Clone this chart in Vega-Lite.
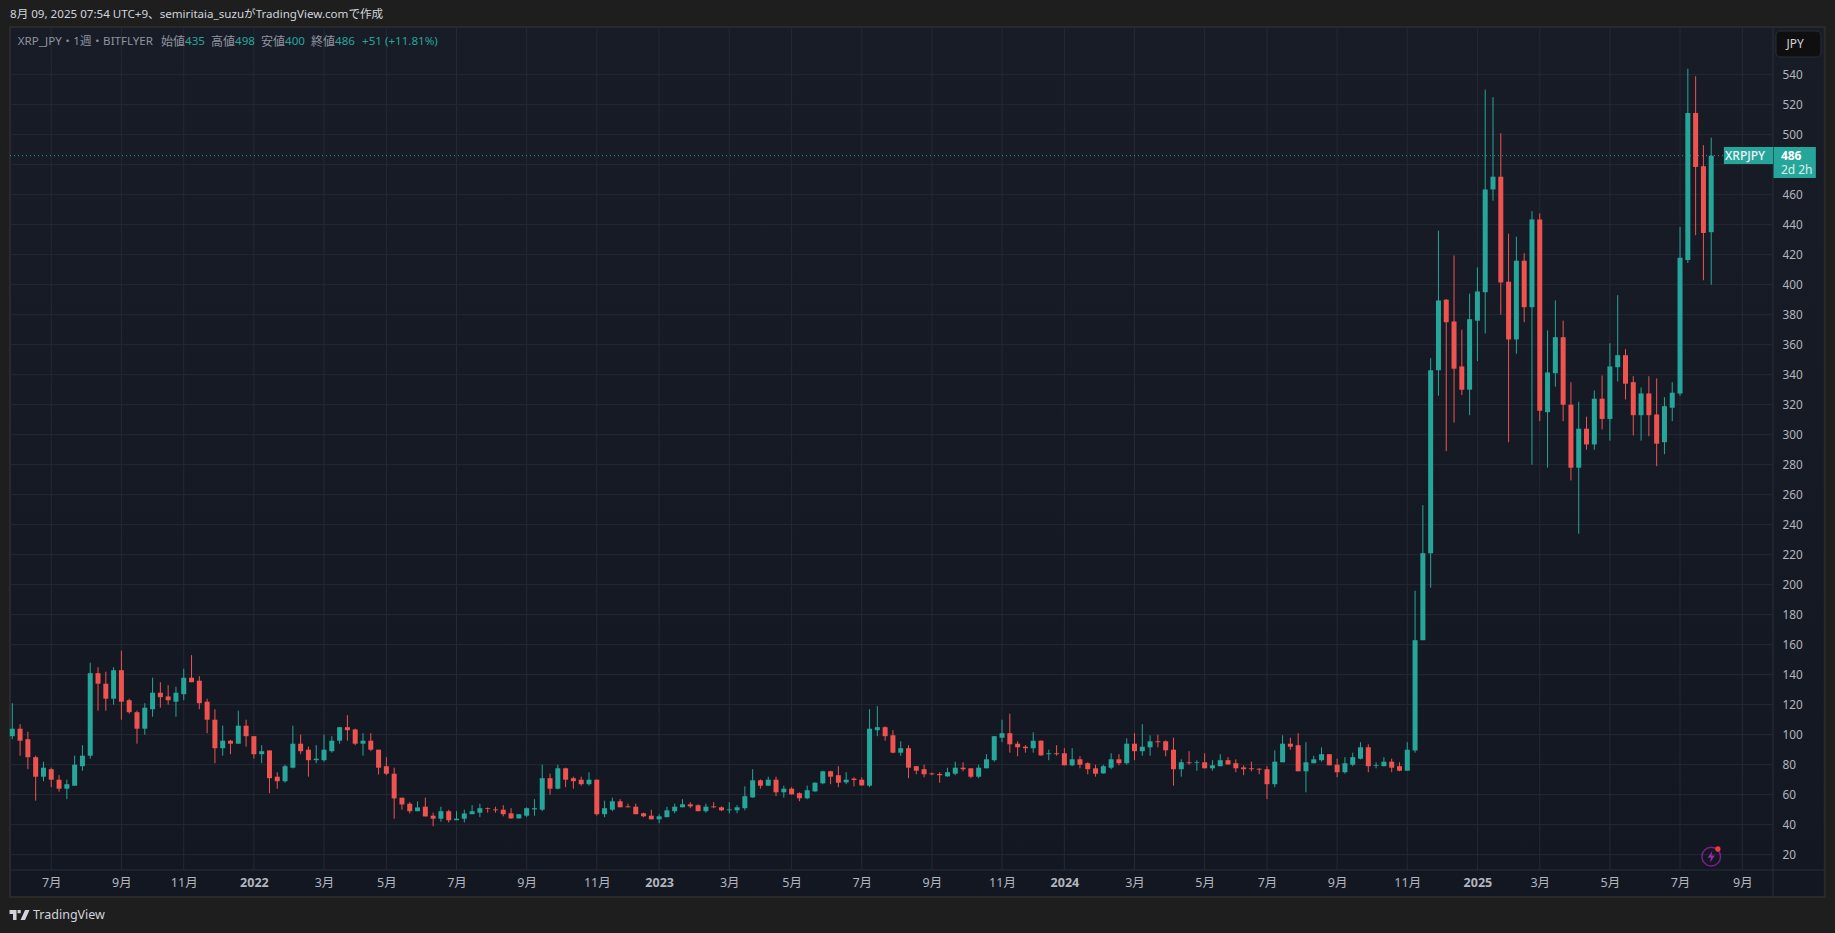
{"$schema":"https://vega.github.io/schema/vega-lite/v6.json","width":1763,"height":843,"autosize":"none","padding":{"left":10,"top":27,"right":62,"bottom":63},"background":"#1e1e1e","config":{"font":"Noto Sans, Noto Sans CJK JP","view":{"stroke":null}},
"datasets":{"one":[{}],
"xticks":[{"date":"2021-07-05"},{"date":"2021-09-06"},{"date":"2021-11-01"},{"date":"2022-01-03"},{"date":"2022-03-07"},{"date":"2022-05-02"},{"date":"2022-07-04"},{"date":"2022-09-05"},{"date":"2022-11-07"},{"date":"2023-01-02"},{"date":"2023-03-06"},{"date":"2023-05-01"},{"date":"2023-07-03"},{"date":"2023-09-04"},{"date":"2023-11-06"},{"date":"2024-01-01"},{"date":"2024-03-04"},{"date":"2024-05-06"},{"date":"2024-07-01"},{"date":"2024-09-02"},{"date":"2024-11-04"},{"date":"2025-01-06"},{"date":"2025-03-03"},{"date":"2025-05-05"},{"date":"2025-07-07"},{"date":"2025-09-01"}],
"yticks":[{"price":20},{"price":40},{"price":60},{"price":80},{"price":100},{"price":120},{"price":140},{"price":160},{"price":180},{"price":200},{"price":220},{"price":240},{"price":260},{"price":280},{"price":300},{"price":320},{"price":340},{"price":360},{"price":380},{"price":400},{"price":420},{"price":440},{"price":460},{"price":480},{"price":500},{"price":520},{"price":540}],
"candles":[
{"date":"2021-05-31","open":99,"high":121,"low":97,"close":104},{"date":"2021-06-07","open":104,"high":107,"low":86,"close":96},{"date":"2021-06-14","open":97,"high":102,"low":77,"close":85},{"date":"2021-06-21","open":85,"high":86,"low":56,"close":72},{"date":"2021-06-28","open":72,"high":82,"low":69,"close":78},
{"date":"2021-07-05","open":77,"high":78,"low":65,"close":70},{"date":"2021-07-12","open":70,"high":73,"low":62,"close":64},{"date":"2021-07-19","open":64,"high":70,"low":57,"close":67},{"date":"2021-07-26","open":66,"high":86,"low":66,"close":80},
{"date":"2021-08-02","open":79,"high":93,"low":76,"close":86},{"date":"2021-08-09","open":86,"high":148,"low":84,"close":141},{"date":"2021-08-16","open":141,"high":145,"low":116,"close":134},{"date":"2021-08-23","open":134,"high":142,"low":116,"close":124},{"date":"2021-08-30","open":124,"high":145,"low":120,"close":143},
{"date":"2021-09-06","open":143,"high":156,"low":110,"close":122},{"date":"2021-09-13","open":123,"high":124,"low":114,"close":115},{"date":"2021-09-20","open":115,"high":116,"low":94,"close":104},{"date":"2021-09-27","open":104,"high":121,"low":100,"close":118},
{"date":"2021-10-04","open":117,"high":138,"low":112,"close":128},{"date":"2021-10-11","open":128,"high":135,"low":118,"close":125},{"date":"2021-10-18","open":125.5,"high":133,"low":120,"close":123},{"date":"2021-10-25","open":122,"high":132,"low":112,"close":128},
{"date":"2021-11-01","open":127,"high":144,"low":123,"close":138},{"date":"2021-11-08","open":138,"high":153,"low":135,"close":135},{"date":"2021-11-15","open":136,"high":139,"low":117,"close":121},{"date":"2021-11-22","open":122,"high":124,"low":101,"close":110},{"date":"2021-11-29","open":110,"high":117,"low":81,"close":91},
{"date":"2021-12-06","open":91,"high":106,"low":86,"close":96},{"date":"2021-12-13","open":96,"high":96.5,"low":87,"close":94},{"date":"2021-12-20","open":94,"high":116,"low":94,"close":106},{"date":"2021-12-27","open":106,"high":110,"low":92,"close":99},
{"date":"2022-01-03","open":99,"high":99,"low":84,"close":87},{"date":"2022-01-10","open":87,"high":93,"low":81,"close":89},{"date":"2022-01-17","open":89.5,"high":89.5,"low":61,"close":71},{"date":"2022-01-24","open":72,"high":75,"low":64,"close":69},{"date":"2022-01-31","open":69,"high":80,"low":68,"close":79},
{"date":"2022-02-07","open":78,"high":106,"low":77.5,"close":94},{"date":"2022-02-14","open":94,"high":100,"low":87,"close":89},{"date":"2022-02-21","open":90,"high":92,"low":72,"close":83},{"date":"2022-02-28","open":83,"high":93,"low":81,"close":84},
{"date":"2022-03-07","open":83,"high":100,"low":82,"close":90},{"date":"2022-03-14","open":89,"high":99,"low":88,"close":96},{"date":"2022-03-21","open":96,"high":105,"low":94,"close":105},{"date":"2022-03-28","open":105,"high":113,"low":96,"close":103},
{"date":"2022-04-04","open":103.5,"high":104,"low":93,"close":94},{"date":"2022-04-11","open":94,"high":101,"low":86,"close":96},{"date":"2022-04-18","open":96,"high":101,"low":89,"close":90},{"date":"2022-04-25","open":90,"high":90,"low":73.5,"close":78},
{"date":"2022-05-02","open":79,"high":85,"low":73,"close":74},{"date":"2022-05-09","open":74,"high":78,"low":44,"close":57.5},{"date":"2022-05-16","open":58,"high":58,"low":50,"close":53.5},{"date":"2022-05-23","open":54,"high":55,"low":47.5,"close":49},{"date":"2022-05-30","open":49,"high":55.5,"low":49,"close":51.5},
{"date":"2022-06-06","open":52,"high":58,"low":45.5,"close":45.5},{"date":"2022-06-13","open":46,"high":48,"low":39,"close":44},{"date":"2022-06-20","open":44,"high":52,"low":42,"close":49},{"date":"2022-06-27","open":49,"high":50,"low":41.5,"close":43},
{"date":"2022-07-04","open":43,"high":49,"low":43,"close":44},{"date":"2022-07-11","open":44,"high":50,"low":41.5,"close":47.5},{"date":"2022-07-18","open":47,"high":53,"low":47,"close":49},{"date":"2022-07-25","open":48,"high":54,"low":45,"close":51},
{"date":"2022-08-01","open":51,"high":51.5,"low":48,"close":50.5},{"date":"2022-08-08","open":50.2,"high":52,"low":48,"close":49.6},{"date":"2022-08-15","open":50,"high":53,"low":45.6,"close":47},{"date":"2022-08-22","open":47.6,"high":51,"low":44,"close":44.2},{"date":"2022-08-29","open":44.2,"high":47,"low":44,"close":47},
{"date":"2022-09-05","open":46,"high":51.6,"low":45,"close":51},{"date":"2022-09-12","open":50.2,"high":57,"low":46,"close":51},{"date":"2022-09-19","open":50,"high":80,"low":49,"close":71},{"date":"2022-09-26","open":71,"high":74,"low":60,"close":64},
{"date":"2022-10-03","open":64,"high":80,"low":63.5,"close":77.6},{"date":"2022-10-10","open":77.6,"high":78,"low":65,"close":70},{"date":"2022-10-17","open":71,"high":72,"low":64,"close":69},{"date":"2022-10-24","open":70,"high":72,"low":66,"close":67},{"date":"2022-10-31","open":67,"high":75,"low":66,"close":70},
{"date":"2022-11-07","open":70,"high":70.2,"low":46,"close":47},{"date":"2022-11-14","open":47,"high":56,"low":45,"close":51},{"date":"2022-11-21","open":50,"high":58,"low":49,"close":55.6},{"date":"2022-11-28","open":55.6,"high":57,"low":51.6,"close":51.6},
{"date":"2022-12-05","open":52.2,"high":54,"low":51.5,"close":51.6},{"date":"2022-12-12","open":52,"high":54,"low":47,"close":47},{"date":"2022-12-19","open":47.6,"high":48,"low":45,"close":45.6},{"date":"2022-12-26","open":46,"high":50,"low":43.6,"close":43.6},
{"date":"2023-01-02","open":43.6,"high":47,"low":41,"close":45.6},{"date":"2023-01-09","open":45,"high":52,"low":45,"close":49.6},{"date":"2023-01-16","open":49,"high":54,"low":47.6,"close":52},{"date":"2023-01-23","open":51.6,"high":57,"low":51.6,"close":53.6},{"date":"2023-01-30","open":53.6,"high":55,"low":51,"close":52.2},
{"date":"2023-02-06","open":53,"high":53.6,"low":49,"close":49},{"date":"2023-02-13","open":49,"high":54,"low":48,"close":52},{"date":"2023-02-20","open":52.2,"high":55,"low":51,"close":51.6},{"date":"2023-02-27","open":51.6,"high":52.2,"low":49,"close":49.6},
{"date":"2023-03-06","open":49.6,"high":55,"low":47.6,"close":50.2},{"date":"2023-03-13","open":49.6,"high":53,"low":47.6,"close":51.6},{"date":"2023-03-20","open":51,"high":65.6,"low":49.6,"close":59},{"date":"2023-03-27","open":58.2,"high":77,"low":58,"close":69.6},
{"date":"2023-04-03","open":69.6,"high":70.2,"low":64,"close":66},{"date":"2023-04-10","open":66,"high":72,"low":66,"close":70},{"date":"2023-04-17","open":70,"high":72,"low":59,"close":61.6},{"date":"2023-04-24","open":61.6,"high":66,"low":58,"close":64},
{"date":"2023-05-01","open":64,"high":65,"low":60,"close":60.2},{"date":"2023-05-08","open":61,"high":61.6,"low":55.6,"close":57.6},{"date":"2023-05-15","open":57.6,"high":66,"low":57,"close":63},{"date":"2023-05-22","open":62.2,"high":68.2,"low":62,"close":68},{"date":"2023-05-29","open":67.6,"high":76,"low":67,"close":75.6},
{"date":"2023-06-05","open":75.6,"high":76,"low":67,"close":72},{"date":"2023-06-12","open":73,"high":79,"low":65,"close":68},{"date":"2023-06-19","open":68.2,"high":75,"low":67,"close":70},{"date":"2023-06-26","open":70.7,"high":71.6,"low":65.6,"close":69.8},
{"date":"2023-07-03","open":70,"high":71.6,"low":66,"close":66.2},{"date":"2023-07-10","open":66,"high":117,"low":65,"close":104},{"date":"2023-07-17","open":103,"high":119,"low":99,"close":105},{"date":"2023-07-24","open":105,"high":105.6,"low":96,"close":99},{"date":"2023-07-31","open":99.6,"high":103,"low":87.6,"close":88},
{"date":"2023-08-07","open":88,"high":95.6,"low":86,"close":91},{"date":"2023-08-14","open":91,"high":93,"low":71,"close":78},{"date":"2023-08-21","open":79,"high":79,"low":73.6,"close":76},{"date":"2023-08-28","open":77,"high":80,"low":71.6,"close":73.6},
{"date":"2023-09-04","open":74.2,"high":74.7,"low":73,"close":73.6},{"date":"2023-09-11","open":73.8,"high":75,"low":68,"close":73},{"date":"2023-09-18","open":72.2,"high":78,"low":72,"close":75},{"date":"2023-09-25","open":74,"high":82,"low":73,"close":78},
{"date":"2023-10-02","open":78,"high":81.6,"low":75.6,"close":77},{"date":"2023-10-09","open":77.6,"high":77.6,"low":71,"close":72},{"date":"2023-10-16","open":72,"high":80,"low":71,"close":78},{"date":"2023-10-23","open":77.6,"high":87,"low":77.6,"close":83.6},{"date":"2023-10-30","open":83,"high":99,"low":82,"close":99},
{"date":"2023-11-06","open":98,"high":110,"low":95,"close":101},{"date":"2023-11-13","open":101,"high":114,"low":88,"close":93.6},{"date":"2023-11-20","open":94,"high":95.6,"low":85.6,"close":91.6},{"date":"2023-11-27","open":92,"high":93,"low":88,"close":91},
{"date":"2023-12-04","open":91,"high":101.6,"low":88,"close":96},{"date":"2023-12-11","open":96,"high":96.2,"low":86,"close":86.2},{"date":"2023-12-18","open":87,"high":90,"low":83,"close":87.6},{"date":"2023-12-25","open":87.6,"high":93,"low":86,"close":87},
{"date":"2024-01-01","open":87.6,"high":91,"low":79.6,"close":79.6},{"date":"2024-01-08","open":79.6,"high":91,"low":79,"close":83.6},{"date":"2024-01-15","open":83.6,"high":85.6,"low":77.6,"close":80},{"date":"2024-01-22","open":81,"high":81.6,"low":73.6,"close":77},{"date":"2024-01-29","open":77.6,"high":80,"low":72,"close":74},
{"date":"2024-02-05","open":74.2,"high":80,"low":74,"close":79},{"date":"2024-02-12","open":78,"high":87.6,"low":77,"close":83.6},{"date":"2024-02-19","open":83.6,"high":87,"low":79.6,"close":81},{"date":"2024-02-26","open":81,"high":97.6,"low":80,"close":94},
{"date":"2024-03-04","open":94,"high":101,"low":83,"close":89},{"date":"2024-03-11","open":89,"high":107,"low":86,"close":92},{"date":"2024-03-18","open":91.6,"high":99.6,"low":86,"close":95.6},{"date":"2024-03-25","open":95.6,"high":100,"low":91.6,"close":95},
{"date":"2024-04-01","open":95.6,"high":96.2,"low":85.6,"close":89.6},{"date":"2024-04-08","open":90,"high":98,"low":66,"close":77},{"date":"2024-04-15","open":77,"high":83.6,"low":72,"close":81.6},{"date":"2024-04-22","open":81.6,"high":89,"low":80,"close":81},{"date":"2024-04-29","open":81.1,"high":83,"low":76,"close":81.6},
{"date":"2024-05-06","open":81.6,"high":87.6,"low":77.6,"close":77.6},{"date":"2024-05-13","open":77.6,"high":83,"low":76,"close":79.6},{"date":"2024-05-20","open":79,"high":87,"low":79,"close":83},{"date":"2024-05-27","open":83,"high":85,"low":80,"close":80.2},
{"date":"2024-06-03","open":81,"high":83.6,"low":75,"close":77.6},{"date":"2024-06-10","open":78.2,"high":79.6,"low":73,"close":77},{"date":"2024-06-17","open":77.6,"high":82,"low":75.6,"close":77},{"date":"2024-06-24","open":77.3,"high":77.6,"low":73.6,"close":76.7},
{"date":"2024-07-01","open":77,"high":79,"low":57,"close":67},{"date":"2024-07-08","open":67,"high":89.6,"low":65,"close":82},{"date":"2024-07-15","open":81.6,"high":99.6,"low":81.6,"close":94},{"date":"2024-07-22","open":94,"high":98,"low":90,"close":92},{"date":"2024-07-29","open":93,"high":101,"low":75.6,"close":75.6},
{"date":"2024-08-05","open":75.6,"high":95,"low":61.6,"close":81.6},{"date":"2024-08-12","open":81,"high":86,"low":81,"close":83.6},{"date":"2024-08-19","open":83,"high":91.6,"low":82,"close":87},{"date":"2024-08-26","open":87,"high":87,"low":79.6,"close":79.6},
{"date":"2024-09-02","open":80,"high":84,"low":71.6,"close":75},{"date":"2024-09-09","open":75,"high":85,"low":74,"close":81},{"date":"2024-09-16","open":80,"high":88,"low":79,"close":85},{"date":"2024-09-23","open":84,"high":95,"low":83.6,"close":91.6},{"date":"2024-09-30","open":91.6,"high":93.6,"low":75,"close":79},
{"date":"2024-10-07","open":79.1,"high":81.6,"low":77.6,"close":79.6},{"date":"2024-10-14","open":79,"high":85,"low":79,"close":82},{"date":"2024-10-21","open":82,"high":84,"low":75,"close":78},{"date":"2024-10-28","open":79,"high":81.6,"low":75.6,"close":76},
{"date":"2024-11-04","open":76,"high":95,"low":76,"close":90},{"date":"2024-11-11","open":89.5,"high":196,"low":88,"close":163},{"date":"2024-11-18","open":163,"high":253,"low":163,"close":221},{"date":"2024-11-25","open":221,"high":351,"low":198,"close":343},
{"date":"2024-12-02","open":343,"high":436,"low":326,"close":389.5},{"date":"2024-12-09","open":390,"high":390.5,"low":289,"close":375},{"date":"2024-12-16","open":375.5,"high":419.5,"low":308,"close":344},{"date":"2024-12-23","open":345.5,"high":370,"low":326.5,"close":330},{"date":"2024-12-30","open":330,"high":394,"low":313,"close":377},
{"date":"2025-01-06","open":376,"high":411.5,"low":349,"close":395.5},{"date":"2025-01-13","open":395,"high":530,"low":367.5,"close":463.5},{"date":"2025-01-20","open":463.5,"high":525,"low":456,"close":472},{"date":"2025-01-27","open":472,"high":501,"low":380,"close":401.5},
{"date":"2025-02-03","open":402,"high":434,"low":295,"close":363.5},{"date":"2025-02-10","open":363.5,"high":432,"low":354,"close":416},{"date":"2025-02-17","open":416,"high":421,"low":375,"close":385},{"date":"2025-02-24","open":385,"high":449,"low":280,"close":443.5},
{"date":"2025-03-03","open":443.5,"high":447.5,"low":309,"close":316},{"date":"2025-03-10","open":315,"high":369.5,"low":278,"close":341.5},{"date":"2025-03-17","open":341,"high":389.5,"low":332,"close":365},{"date":"2025-03-24","open":365,"high":376,"low":309,"close":320},{"date":"2025-03-31","open":320,"high":335,"low":269.5,"close":278},
{"date":"2025-04-07","open":278,"high":322,"low":234,"close":304},{"date":"2025-04-14","open":304,"high":312,"low":290,"close":293.5},{"date":"2025-04-21","open":293.5,"high":329.5,"low":290,"close":324},{"date":"2025-04-28","open":324,"high":339.5,"low":303.5,"close":310.5},
{"date":"2025-05-05","open":310.5,"high":361,"low":296,"close":345.5},{"date":"2025-05-12","open":345,"high":393,"low":335.5,"close":353},{"date":"2025-05-19","open":353,"high":357,"low":323.5,"close":334},{"date":"2025-05-26","open":335,"high":339,"low":299.5,"close":313},
{"date":"2025-06-02","open":313,"high":331.5,"low":296,"close":327.5},{"date":"2025-06-09","open":327.5,"high":339,"low":299,"close":313},{"date":"2025-06-16","open":313.5,"high":337.5,"low":279,"close":294},{"date":"2025-06-23","open":295,"high":325,"low":287,"close":319},{"date":"2025-06-30","open":318,"high":335,"low":309,"close":328},
{"date":"2025-07-07","open":327.5,"high":438.5,"low":326,"close":418},{"date":"2025-07-14","open":416.5,"high":544,"low":414.5,"close":514.5},{"date":"2025-07-21","open":514.5,"high":539,"low":433,"close":478.5},{"date":"2025-07-28","open":479,"high":493,"low":403,"close":434.5},
{"date":"2025-08-04","open":435,"high":498,"low":400,"close":486}]},
"layer":[
{"data":{"name":"one"},"mark":{"type":"rect","stroke":"#2a2a2a","strokeWidth":2,"fill":{"x1":0,"y1":0,"x2":0,"y2":1,"gradient":"linear","stops":[{"offset":0,"color":"#181c27"},{"offset":1,"color":"#131722"}]}},"encoding":{"x":{"datum":{"year":2021,"month":5,"date":28,"hours":22,"minutes":30,"utc":true},"type":"temporal"},"x2":{"datum":{"year":2025,"month":11,"date":14,"utc":true}},"y":{"datum":571.8,"type":"quantitative"},"y2":{"datum":-8.2}}},
{"data":{"name":"xticks"},"mark":{"type":"rule","color":"#252934","strokeWidth":1},"encoding":{"x":{"field":"date","type":"temporal"}}},
{"data":{"name":"yticks"},"mark":{"type":"rule","color":"#252934","strokeWidth":1},"encoding":{"y":{"field":"price","type":"quantitative"}}},
{"data":{"name":"one"},"mark":{"type":"rule","color":"#2a2e39","strokeWidth":1},"encoding":{"x":{"datum":{"year":2021,"month":5,"date":28,"hours":22,"minutes":30,"utc":true},"type":"temporal"},"x2":{"datum":{"year":2025,"month":11,"date":14,"utc":true}},"y":{"datum":9.8,"type":"quantitative"}}},
{"data":{"name":"one"},"mark":{"type":"rule","color":"#2a2e39","strokeWidth":1},"encoding":{"x":{"datum":{"year":2025,"month":9,"date":28,"hours":12,"utc":true},"type":"temporal"},"y":{"datum":571.8,"type":"quantitative"},"y2":{"datum":-8.2}}},
{"data":{"name":"one"},"mark":{"type":"rule","color":"#26a69a","strokeWidth":1,"strokeDash":[1,3]},"encoding":{"x":{"datum":{"year":2021,"month":5,"date":28,"hours":22,"minutes":30,"utc":true},"type":"temporal"},"x2":{"datum":{"year":2025,"month":8,"date":15,"hours":9,"utc":true}},"y":{"datum":486,"type":"quantitative"}}},
{"data":{"name":"candles"},"mark":{"type":"rule","strokeWidth":1},"encoding":{"x":{"field":"date","type":"temporal","title":null,"scale":{"type":"utc","padding":0,"domain":[{"year":2021,"month":5,"date":28,"hours":22,"minutes":30,"utc":true},{"year":2025,"month":9,"date":28,"hours":12,"utc":true}]},"axis":{"zindex":1,"grid":false,"domain":false,"ticks":false,"title":null,"tickCount":60,"labelColor":"#b2b5be","labelFontSize":12.5,"labelPadding":6,"labelOverlap":false,"labelFlush":false,"labelBound":false,"labelAngle":0,"labelExpr":"utcmonth(datum.value)==0 ? ''+utcyear(datum.value) : (utcmonth(datum.value)+1)+'月'","labelFontWeight":{"condition":{"test":"utcmonth(datum.value)==0","value":"bold"},"value":"normal"},"values":[{"year":2021,"month":7,"date":5,"utc":true},{"year":2021,"month":9,"date":6,"utc":true},{"year":2021,"month":11,"date":1,"utc":true},{"year":2022,"month":1,"date":3,"utc":true},{"year":2022,"month":3,"date":7,"utc":true},{"year":2022,"month":5,"date":2,"utc":true},{"year":2022,"month":7,"date":4,"utc":true},{"year":2022,"month":9,"date":5,"utc":true},{"year":2022,"month":11,"date":7,"utc":true},{"year":2023,"month":1,"date":2,"utc":true},{"year":2023,"month":3,"date":6,"utc":true},{"year":2023,"month":5,"date":1,"utc":true},{"year":2023,"month":7,"date":3,"utc":true},{"year":2023,"month":9,"date":4,"utc":true},{"year":2023,"month":11,"date":6,"utc":true},{"year":2024,"month":1,"date":1,"utc":true},{"year":2024,"month":3,"date":4,"utc":true},{"year":2024,"month":5,"date":6,"utc":true},{"year":2024,"month":7,"date":1,"utc":true},{"year":2024,"month":9,"date":2,"utc":true},{"year":2024,"month":11,"date":4,"utc":true},{"year":2025,"month":1,"date":6,"utc":true},{"year":2025,"month":3,"date":3,"utc":true},{"year":2025,"month":5,"date":5,"utc":true},{"year":2025,"month":7,"date":7,"utc":true},{"year":2025,"month":9,"date":1,"utc":true}]}},"y":{"field":"low","type":"quantitative","title":null,"scale":{"domain":[9.8,571.8],"nice":false,"zero":false},"axis":{"orient":"right","zindex":1,"grid":false,"domain":false,"ticks":false,"title":null,"tickCount":60,"labelColor":"#b2b5be","labelFontSize":11.8,"labelPadding":9,"labelOverlap":false,"labelBound":false,"labelFlush":false,"values":[20,40,60,80,100,120,140,160,180,200,220,240,260,280,300,320,340,360,380,400,420,440,460,500,520,540]}},"y2":{"field":"high"},"color":{"condition":{"test":"datum.close>=datum.open","value":"#26a69a"},"value":"#ef5350"}}},
{"data":{"name":"candles"},"mark":{"type":"bar","size":5},"encoding":{"x":{"field":"date","type":"temporal"},"y":{"field":"open","type":"quantitative"},"y2":{"field":"close"},"color":{"condition":{"test":"datum.close>=datum.open","value":"#26a69a"},"value":"#ef5350"}}},
{"data":{"name":"one"},"mark":{"type":"rect","fill":"#26a69a"},"encoding":{"x":{"datum":{"year":2025,"month":8,"date":15,"hours":9,"utc":true},"type":"temporal"},"x2":{"datum":{"year":2025,"month":9,"date":28,"hours":12,"utc":true}},"y":{"datum":491.8,"type":"quantitative"},"y2":{"datum":480.5}}},
{"data":{"name":"one"},"mark":{"type":"rect","fill":"#26a69a"},"encoding":{"x":{"datum":{"year":2025,"month":9,"date":29,"utc":true},"type":"temporal"},"x2":{"datum":{"year":2025,"month":11,"date":6,"utc":true}},"y":{"datum":491.8,"type":"quantitative"},"y2":{"datum":471.1}}},
{"data":{"name":"one"},"mark":{"type":"text","align":"center","baseline":"middle","fontSize":12,"fontWeight":500,"color":"#f0f3fa"},"encoding":{"x":{"datum":{"year":2025,"month":9,"date":3,"hours":9,"utc":true},"type":"temporal"},"y":{"datum":486,"type":"quantitative"},"text":{"value":"XRPJPY"}}},
{"data":{"name":"one"},"mark":{"type":"text","align":"left","baseline":"middle","fontSize":12,"fontWeight":"bold","color":"#ffffff"},"encoding":{"x":{"datum":{"year":2025,"month":10,"date":5,"hours":14,"utc":true},"type":"temporal"},"y":{"datum":486,"type":"quantitative"},"text":{"value":"486"}}},
{"data":{"name":"one"},"mark":{"type":"text","align":"left","baseline":"middle","fontSize":12,"color":"#d8f0ee"},"encoding":{"x":{"datum":{"year":2025,"month":10,"date":5,"hours":14,"utc":true},"type":"temporal"},"y":{"datum":476.5,"type":"quantitative"},"text":{"value":"2d 2h"}}},
{"data":{"name":"one"},"mark":{"type":"rect","fill":"#0f0f0f","stroke":"#2a2e39","strokeWidth":1,"cornerRadius":4},"encoding":{"x":{"datum":{"year":2025,"month":10,"date":1,"hours":5,"utc":true},"type":"temporal"},"x2":{"datum":{"year":2025,"month":11,"date":10,"hours":14,"utc":true}},"y":{"datum":569.1,"type":"quantitative"},"y2":{"datum":551.8}}},
{"data":{"name":"one"},"mark":{"type":"text","align":"center","baseline":"middle","fontSize":12,"color":"#d1d4dc"},"encoding":{"x":{"datum":{"year":2025,"month":10,"date":18,"hours":7,"utc":true},"type":"temporal"},"y":{"datum":560.4,"type":"quantitative"},"text":{"value":"JPY"}}},
{"data":{"name":"one"},"mark":{"type":"text","align":"left","baseline":"middle","fontSize":11.6,"color":"#d1d4dc","dx":-2.3},"encoding":{"x":{"datum":{"year":2021,"month":5,"date":31,"utc":true},"type":"temporal"},"y":{"datum":580,"type":"quantitative"},"text":{"value":"8月 09, 2025 07:54 UTC+9、semiritaia_suzuがTradingView.comで作成"}}},
{"data":{"name":"one"},"mark":{"type":"text","align":"left","baseline":"middle","fontSize":11.6,"color":"#8f94a0","dx":5.4},"encoding":{"x":{"datum":{"year":2021,"month":5,"date":31,"utc":true},"type":"temporal"},"y":{"datum":562,"type":"quantitative"},"text":{"value":"XRP_JPY・1週・BITFLYER"}}},
{"data":{"name":"one"},"mark":{"type":"text","align":"left","baseline":"middle","fontSize":12,"color":"#8f94a0","dx":148.7},"encoding":{"x":{"datum":{"year":2021,"month":5,"date":31,"utc":true},"type":"temporal"},"y":{"datum":562,"type":"quantitative"},"text":{"value":"始値"}}},
{"data":{"name":"one"},"mark":{"type":"text","align":"left","baseline":"middle","fontSize":11.6,"color":"#26a69a","dx":172.7},"encoding":{"x":{"datum":{"year":2021,"month":5,"date":31,"utc":true},"type":"temporal"},"y":{"datum":562,"type":"quantitative"},"text":{"value":"435"}}},
{"data":{"name":"one"},"mark":{"type":"text","align":"left","baseline":"middle","fontSize":12,"color":"#8f94a0","dx":198.7},"encoding":{"x":{"datum":{"year":2021,"month":5,"date":31,"utc":true},"type":"temporal"},"y":{"datum":562,"type":"quantitative"},"text":{"value":"高値"}}},
{"data":{"name":"one"},"mark":{"type":"text","align":"left","baseline":"middle","fontSize":11.6,"color":"#26a69a","dx":222.7},"encoding":{"x":{"datum":{"year":2021,"month":5,"date":31,"utc":true},"type":"temporal"},"y":{"datum":562,"type":"quantitative"},"text":{"value":"498"}}},
{"data":{"name":"one"},"mark":{"type":"text","align":"left","baseline":"middle","fontSize":12,"color":"#8f94a0","dx":248.7},"encoding":{"x":{"datum":{"year":2021,"month":5,"date":31,"utc":true},"type":"temporal"},"y":{"datum":562,"type":"quantitative"},"text":{"value":"安値"}}},
{"data":{"name":"one"},"mark":{"type":"text","align":"left","baseline":"middle","fontSize":11.6,"color":"#26a69a","dx":272.7},"encoding":{"x":{"datum":{"year":2021,"month":5,"date":31,"utc":true},"type":"temporal"},"y":{"datum":562,"type":"quantitative"},"text":{"value":"400"}}},
{"data":{"name":"one"},"mark":{"type":"text","align":"left","baseline":"middle","fontSize":12,"color":"#8f94a0","dx":298.7},"encoding":{"x":{"datum":{"year":2021,"month":5,"date":31,"utc":true},"type":"temporal"},"y":{"datum":562,"type":"quantitative"},"text":{"value":"終値"}}},
{"data":{"name":"one"},"mark":{"type":"text","align":"left","baseline":"middle","fontSize":11.6,"color":"#26a69a","dx":322.7},"encoding":{"x":{"datum":{"year":2021,"month":5,"date":31,"utc":true},"type":"temporal"},"y":{"datum":562,"type":"quantitative"},"text":{"value":"486"}}},
{"data":{"name":"one"},"mark":{"type":"text","align":"left","baseline":"middle","fontSize":11.6,"color":"#26a69a","dx":349.7},"encoding":{"x":{"datum":{"year":2021,"month":5,"date":31,"utc":true},"type":"temporal"},"y":{"datum":562,"type":"quantitative"},"text":{"value":"+51 (+11.81%)"}}},
{"data":{"name":"one"},"mark":{"type":"point","filled":false,"shape":"circle","size":346,"stroke":"#9c27b0","strokeWidth":1.5},"encoding":{"x":{"datum":{"year":2025,"month":8,"date":4,"utc":true},"type":"temporal"},"y":{"datum":18.7,"type":"quantitative"}}},
{"data":{"name":"one"},"mark":{"type":"point","filled":true,"opacity":1,"shape":"M0.2,-1 L-0.6,0.2 L-0.05,0.2 L-0.2,1 L0.6,-0.2 L0.05,-0.2 Z","size":144,"fill":"#9c27b0"},"encoding":{"x":{"datum":{"year":2025,"month":8,"date":4,"utc":true},"type":"temporal"},"y":{"datum":18.7,"type":"quantitative"}}},
{"data":{"name":"one"},"mark":{"type":"point","filled":true,"opacity":1,"shape":"circle","size":28,"fill":"#f23645"},"encoding":{"x":{"datum":{"year":2025,"month":8,"date":10,"utc":true},"type":"temporal"},"y":{"datum":23.8,"type":"quantitative"}}},
{"data":{"name":"one"},"mark":{"type":"point","filled":true,"opacity":1,"shape":"M-1,-0.5 H-0.3 V0.5 H-0.65 V-0.1 H-1 Z M-0.2,-0.5 H0.12 V-0.18 H-0.2 Z M0.55,-0.5 H1 L0.55,0.5 H0.1 Z","size":400,"fill":"#d1d4dc"},"encoding":{"x":{"datum":{"year":2021,"month":6,"date":6,"hours":12,"utc":true},"type":"temporal"},"y":{"datum":-20.2,"type":"quantitative"}}},
{"data":{"name":"one"},"mark":{"type":"text","align":"left","baseline":"middle","fontSize":12.5,"color":"#d1d4dc","dx":20.7},"encoding":{"x":{"datum":{"year":2021,"month":5,"date":31,"utc":true},"type":"temporal"},"y":{"datum":-20.2,"type":"quantitative"},"text":{"value":"TradingView"}}}
]}
